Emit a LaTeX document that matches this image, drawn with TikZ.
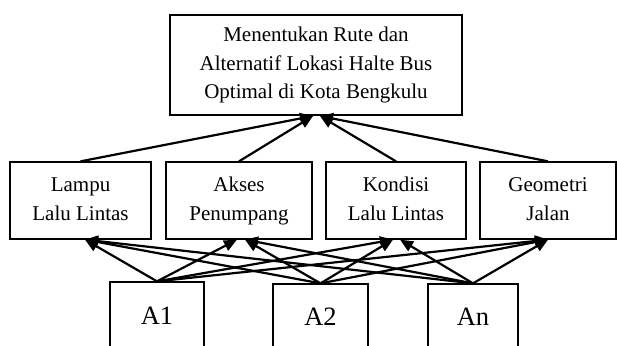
\documentclass[tikz,border=0pt]{standalone}
\usepackage{fontspec}
\setmainfont{Liberation Serif}
\usetikzlibrary{arrows.meta,calc}
\begin{document}
\begin{tikzpicture}[x=1pt,y=-1pt,
  box/.style={draw, line width=1.3pt, inner sep=0pt, align=center,
    minimum height=77pt, font=\fontsize{21}{29}\selectfont},
  alt/.style={draw, line width=1.3pt, inner sep=0pt,
    font=\fontsize{26.5}{30}\selectfont},
  arr/.style={line width=2.2pt, -{Triangle[length=13pt,width=11pt]}}]
\useasboundingbox (0,0) rectangle (617,345);
\clip (0,0) rectangle (617,345);
\node[box, line width=2pt, minimum width=292pt, minimum height=100pt,
  font=\fontsize{21}{28.5}\selectfont] (goal) at (316,65)
  {Menentukan Rute dan\\Alternatif Lokasi Halte Bus\\Optimal di Kota Bengkulu};
\node[box, minimum width=141pt] (c1) at (80.5,200.5) {\strut Lampu\\\strut Lalu Lintas};
\node[box, minimum width=146pt] (c2) at (239,200.5) {\strut Akses\\\strut Penumpang};
\node[box, minimum width=140pt] (c3) at (396,200.5) {\strut Kondisi\\\strut Lalu Lintas};
\node[box, minimum width=136pt] (c4) at (548,200.5) {\strut Geometri\\\strut Jalan};
\node[alt, minimum width=94pt, minimum height=68pt] (a1) at (157,316) {A1};
\node[alt, minimum width=95pt, minimum height=66pt] (a2) at (320.5,317) {A2};
\node[alt, minimum width=90pt, minimum height=66pt] (an) at (473,317) {An};
% criteria to goal
\draw[arr] (c1.north) -- ($(goal.south)+(-3,0)$);
\draw[arr] (c2.north) -- ($(goal.south)+(-3,0)$);
\draw[arr] (c3.north) -- ($(goal.south)+(4,0)$);
\draw[arr] (c4.north) -- ($(goal.south)+(4,0)$);
% alternatives to criteria
\draw[arr] (a1.north) -- ($(c1.south)+(4.5,0)$);
\draw[arr] (a2.north) -- ($(c1.south)+(4.5,0)$);
\draw[arr] (an.north) -- ($(c1.south)+(4.5,0)$);
\draw[arr] (a1.north) -- ($(c2.south)+(-2,0)$);
\draw[arr] (a2.north) -- ($(c2.south)+(6,0)$);
\draw[arr] (an.north) -- ($(c2.south)+(6,0)$);
\draw[arr] (a1.north) -- ($(c3.south)+(-3,0)$);
\draw[arr] (a2.north) -- ($(c3.south)+(-3,0)$);
\draw[arr] (an.north) -- ($(c3.south)+(4,0)$);
\draw[arr] (a1.north) -- ($(c4.south)+(0,0)$);
\draw[arr] (a2.north) -- ($(c4.south)+(0,0)$);
\draw[arr] (an.north) -- ($(c4.south)+(0,0)$);
\end{tikzpicture}
\end{document}
